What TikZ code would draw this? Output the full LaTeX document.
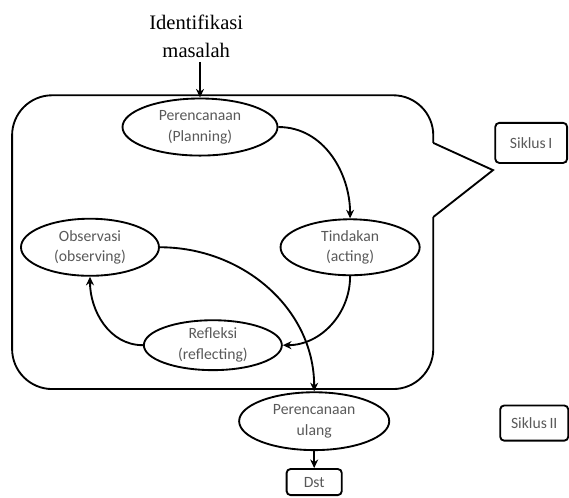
\documentclass[tikz,border=0pt]{standalone}
\usepackage{fontspec}
\setmainfont{Carlito}
\newfontfamily\judulfont{Liberation Serif}
\usetikzlibrary{shapes.geometric,arrows.meta}
\definecolor{abutua}{RGB}{89,89,89}

\begin{document}
\begin{tikzpicture}[
        tahap/.style={ellipse,draw,line width=1.4pt,inner sep=0pt,align=center,
            text=abutua,font=\fontsize{11.8}{15.5}\selectfont},
        kotak/.style={draw,rounded corners=3pt,line width=1.4pt,inner sep=0pt,
            text=abutua,font=\fontsize{11.8}{15.5}\selectfont},
        panah/.style={-{Stealth[length=6.5pt,width=6pt]},line width=1.4pt}]
    \useasboundingbox (0,0) rectangle (15.05,13.15);
    \node[align=center,font=\judulfont\fontsize{15.5}{21}\selectfont] (masalah) at (5.19,12.20) {Identifikasi\\masalah};
    \node[tahap,minimum width=4.10cm,minimum height=1.51cm] (rencana) at (5.29,9.79) {Perencanaan\\(Planning)};
    \node[tahap,minimum width=3.68cm,minimum height=1.48cm] (tindakan) at (9.26,6.61) {Tindakan\\(acting)};
    \node[tahap,minimum width=3.65cm,minimum height=1.51cm] (observasi) at (2.38,6.61) {Observasi\\(observing)};
    \node[tahap,minimum width=3.65cm,minimum height=1.32cm] (refleksi) at (5.63,4.02) {Refleksi\\(reflecting)};
    \node[tahap,minimum width=3.97cm,minimum height=1.53cm] (ulang) at (8.31,2.01) {Perencanaan\\ulang};
    \node[kotak,minimum width=1.46cm,minimum height=0.69cm] (dst) at (8.31,0.40) {Dst};
    \node[kotak,minimum width=1.90cm,minimum height=1.06cm] (siklussatu) at (14.05,9.37) {Siklus\,I};
    \node[kotak,minimum width=1.80cm,minimum height=0.93cm] (siklusdua) at (14.13,1.96) {Siklus\,II};

    \draw[line width=1.4pt,rounded corners=1.06cm] (11.46,9.37) |- (0.32,10.63) |- (11.46,2.86) -- (11.46,7.41);
    \draw[line width=1.4pt] (11.46,9.37) -- (13.04,8.65) -- (11.46,7.41);

    \draw[panah] (masalah.south -| rencana.north) -- (rencana.north);
    \draw[panah] (rencana.east) to[out=0,in=90] (tindakan.north);
    \draw[panah] (tindakan.south) to[out=-90,in=0] (refleksi.east);
    \draw[panah] (refleksi.west) to[out=180,in=-90] (observasi.south);
    \draw[panah] (observasi.east) to[out=0,in=90] (ulang.north);
    \draw[panah] (ulang.south) -- (dst.north);
\end{tikzpicture}
\end{document}
